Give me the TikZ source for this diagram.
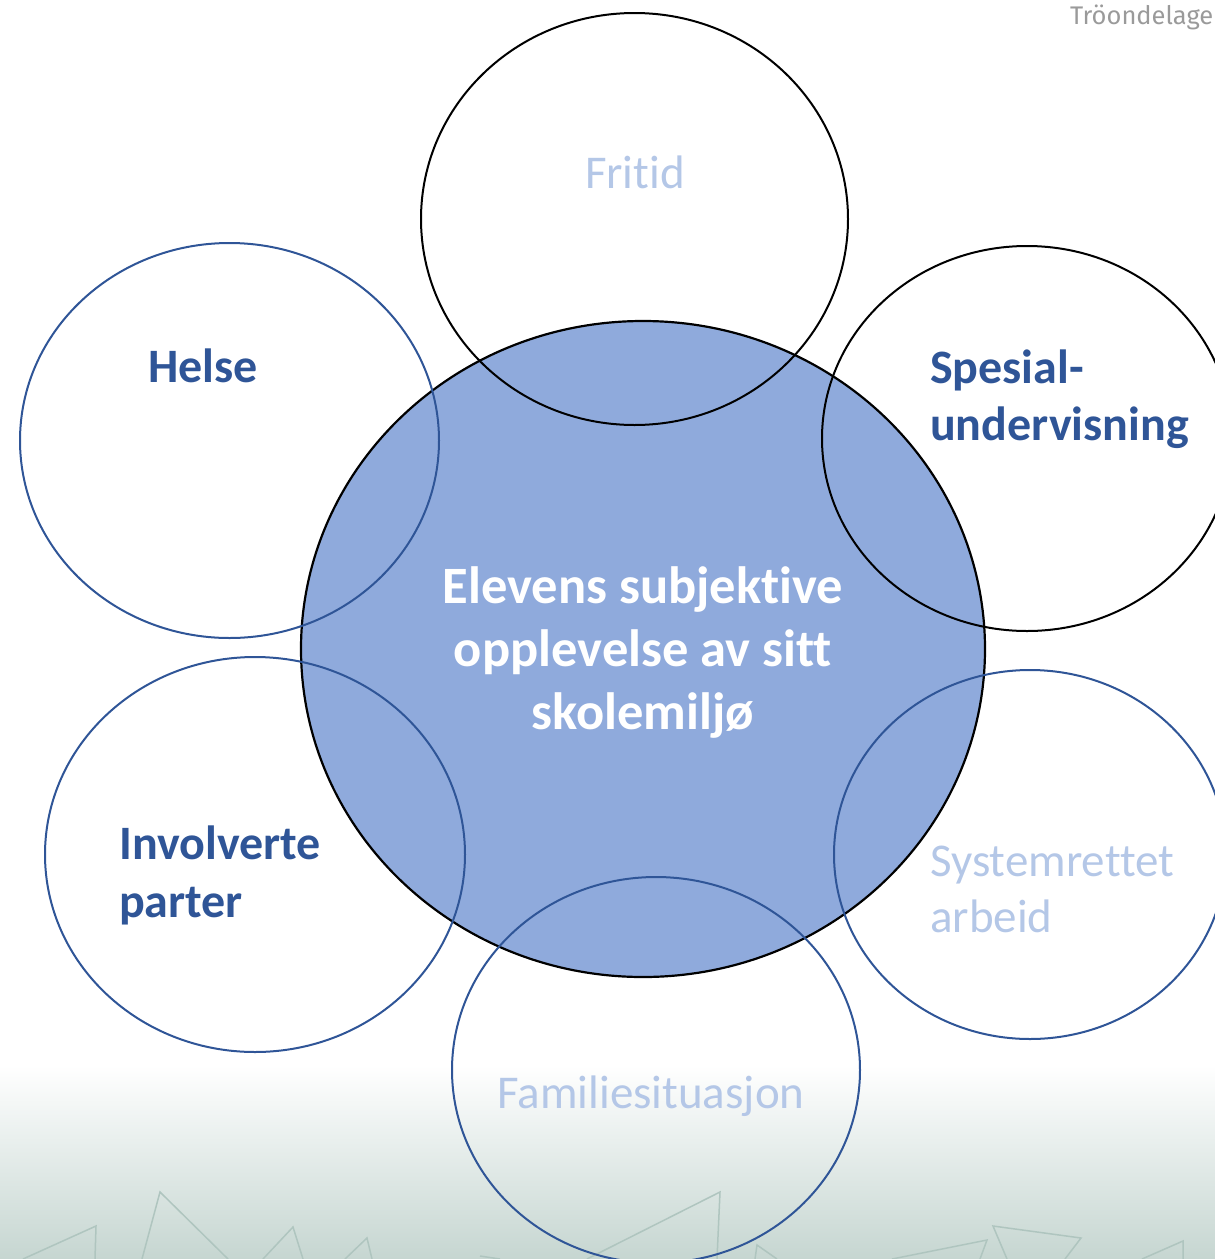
\documentclass[tikz,border=0pt]{standalone}
\usepackage{fontspec}
\setmainfont{Carlito}[Ligatures=NoCommon]
\newfontfamily\logofont{Fira Sans}
\usetikzlibrary{shapes.geometric}
\definecolor{dkblue}{HTML}{2F5597}
\definecolor{ltblue}{HTML}{B4C7E7}
\definecolor{midfill}{HTML}{8FAADC}
\definecolor{bgbot}{HTML}{C6D6D1}
\definecolor{tri}{HTML}{AFC5BF}
\definecolor{logogrey}{HTML}{9A9A9A}
\tikzset{
  ring/.style={ellipse, draw, line width=2pt, inner sep=0pt},
  bluering/.style={ring, draw=dkblue},
  blackring/.style={ring, draw=black},
  boldlbl/.style={font=\fontsize{48}{57}\selectfont\bfseries, text=dkblue, inner sep=0pt},
  lightlbl/.style={font=\fontsize{47}{56}\selectfont, text=ltblue, inner sep=0pt},
  centerlbl/.style={font=\fontsize{52.5}{63}\selectfont\bfseries, text=white, inner sep=0pt},
  triline/.style={draw=tri, line width=1.5pt, line join=miter},
}
\begin{document}
\begin{tikzpicture}[x=1pt,y=-1pt]
\useasboundingbox (0,0) rectangle (1215,1259);
% background
\shade[top color=white, bottom color=bgbot] (0,1065) rectangle (1215,1259);
% decorative triangles
\draw[triline] (23,1259) -- (96,1226) -- (95,1259);
\draw[triline] (142,1259) -- (160,1192) -- (228,1259);
\draw[triline] (263,1259) -- (293,1227) -- (303,1259);
\draw[triline] (345,1259) -- (367,1238) -- (372,1259);
\draw[triline] (480,1256) -- (500,1259);
\draw[triline] (587,1259) -- (720,1192) -- (717,1259);
\draw[triline] (755,1259) -- (757,1245) -- (777,1259);
\draw[triline] (892,1259) -- (987,1240) -- (980,1259);
\draw[triline] (1007,1259) -- (993,1226) -- (1081,1238) -- (1065,1259);
\draw[triline] (1142,1259) -- (1183,1241) -- (1183,1259);
% logo text
\node[font=\logofont\fontsize{25.5}{30}\selectfont, text=logogrey, anchor=base west, inner sep=0pt] (logo) at (1070,24) {Tröondelage};
% central circle
\node[ellipse, draw=black, fill=midfill, line width=2.2pt, inner sep=0pt, minimum width=684pt, minimum height=656pt] (center) at (643,649) {};
% outer circles
\node[blackring, minimum width=427pt, minimum height=412pt] (fritidc) at (634.5,219) {};
\node[bluering, minimum width=419pt, minimum height=395pt] (helsec) at (229.5,440.5) {};
\node[blackring, minimum width=410pt, minimum height=385pt] (spesc) at (1027,438.5) {};
\node[bluering, minimum width=420pt, minimum height=395pt] (invc) at (255,854.5) {};
\node[bluering, minimum width=392pt, minimum height=369pt] (sysc) at (1030,854.5) {};
\node[bluering, minimum width=408pt, minimum height=386pt] (famc) at (656,1070) {};
% labels
\node[lightlbl, anchor=base] (fritid) at (635,188) {Fritid};
\node[boldlbl, anchor=base west] (helse) at (148,382) {Helse};
\node[boldlbl, anchor=base west] (spes1) at (930,383) {Spesial-};
\node[boldlbl, anchor=base west] (spes2) at (930,440) {undervisning};
\node[centerlbl, anchor=base] (c1) at (643,603) {Elevens subjektive};
\node[centerlbl, anchor=base] (c2) at (643,666) {opplevelse av sitt};
\node[centerlbl, anchor=base] (c3) at (643,729) {skolemiljø};
\node[boldlbl, anchor=base west] (inv1) at (119,859) {Involverte};
\node[boldlbl, anchor=base west] (inv2) at (119,917) {parter};
\node[lightlbl, anchor=base west] (sys1) at (930,876) {Systemrettet};
\node[lightlbl, anchor=base west] (sys2) at (930,932) {arbeid};
\node[lightlbl, anchor=base] (fam) at (651,1108) {Familiesituasjon};
\end{tikzpicture}
\end{document}
